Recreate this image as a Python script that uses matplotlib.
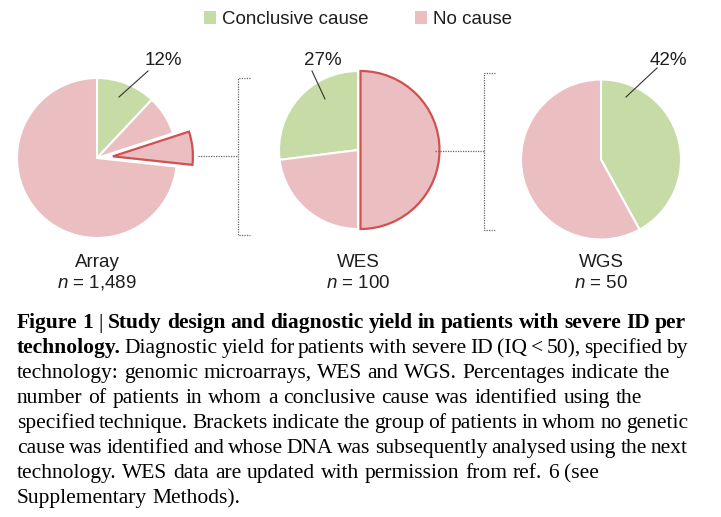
import numpy as np
import matplotlib.pyplot as plt
import matplotlib as mpl
import matplotlib.patches as mpatches

W, H = 721, 517

categories = ["Conclusive cause", "No cause"]
techs = ["Array", "WES", "WGS"]
n_patients = ["1,489", "100", "50"]
yield_labels = ["12%", "27%", "42%"]

# slices: conclusive cause, no cause, (no cause -> analysed with next technology), ...
array_sizes = [12, 8, 6.7, 73.3]
wes_sizes = [27, 23, 50]
wgs_sizes = [42, 58]

caption_lines = [
    [("Figure 1", "bold"), ("|", "normal"), ("Study design and diagnostic yield in patients with severe ID per", "bold")],
    [("technology.", "bold"), ("Diagnostic yield for patients with severe ID (IQ < 50), specified by", "normal")],
    [("technology: genomic microarrays, WES and WGS. Percentages indicate the", "normal")],
    [("number of patients in whom a conclusive cause was identified using the", "normal")],
    [("specified technique. Brackets indicate the group of patients in whom no genetic", "normal")],
    [("cause was identified and whose DNA was subsequently analysed using the next", "normal")],
    [("technology. WES data are updated with permission from ref. 6 (see", "normal")],
    [("Supplementary Methods).", "normal")],
]
# right edge of each caption line in the original layout (pixels), None = natural spacing
caption_right = [686, 688, 670, 642, 688, 688, 599, None]

GREEN = "#c6dba5"
PINK = "#ebbec2"
RED = "#d0514f"
DARK = "#1e1e1e"

mpl.rc("font", family=["Liberation Sans", "DejaVu Sans"])
mpl.rc("mathtext", fontset="custom", it="Liberation Sans:italic", rm="Liberation Sans")


def Y(py):
    return H - py


fig = plt.figure(figsize=(W / 100, H / 100), dpi=100)
ax = fig.add_axes([0, 0, 1, 1])

wp = dict(edgecolor="white", linewidth=1.5)

# pie geometry (pixels)
pies = [
    dict(sizes=array_sizes, colors=[GREEN, PINK, PINK, PINK], explode=[0, 0, 16, 0], hl=2,
         center=(97, 158), r=80, counterclock=False),
    dict(sizes=wes_sizes, colors=[GREEN, PINK, PINK], explode=[0, 0, 2.5], hl=2,
         center=(358, 150), r=79, counterclock=True),
    dict(sizes=wgs_sizes, colors=[GREEN, PINK], explode=[0, 0], hl=None,
         center=(601, 159.5), r=80, counterclock=False),
]

for p in pies:
    wedges, _ = ax.pie(p["sizes"], colors=p["colors"], explode=p["explode"], startangle=90,
                       counterclock=p["counterclock"], center=(p["center"][0], Y(p["center"][1])),
                       radius=p["r"], wedgeprops=wp, frame=True)
    if p["hl"] is not None:
        wedges[p["hl"]].set_edgecolor(RED)
        wedges[p["hl"]].set_linewidth(1.6)

ax.set_xlim(0, W)
ax.set_ylim(0, H)
ax.set_aspect("auto")
ax.axis("off")

# technology labels
for p, t, n in zip(pies, techs, n_patients):
    cx = p["center"][0]
    ax.text(cx, Y(267), t, ha="center", va="baseline", fontsize=13.5, color=DARK)
    ax.text(cx, Y(288), r"$n$ = " + n, ha="center", va="baseline", fontsize=13.5, color=DARK)

# yield labels with leader lines
label_pos = [(163, 65), (323, 65), (668, 65)]
leaders = [((148, 71), (119, 97)), ((312, 71), (325, 99)), ((657, 68), (626, 97))]
for lab, (tx, ty), ((x1, y1), (x2, y2)) in zip(yield_labels, label_pos, leaders):
    ax.text(tx, Y(ty), lab, ha="center", va="baseline", fontsize=13.5, color=DARK)
    ax.plot([x1, x2], [Y(y1), Y(y2)], color="#333333", lw=0.8)

# brackets
bk = dict(color="#666666", lw=0.9, ls=(0, (1, 1)))
for (hx0, hx1, hy, vx, vy0, vy1, tx) in [(198, 238, 156, 238, 78, 235, 250),
                                         (435, 484, 151, 484, 73, 230, 495)]:
    ax.plot([hx0, hx1], [Y(hy), Y(hy)], **bk)
    ax.plot([tx, vx, vx, tx], [Y(vy0), Y(vy0), Y(vy1), Y(vy1)], **bk)

# legend
handles = [mpatches.Patch(facecolor=GREEN, edgecolor="none"),
           mpatches.Patch(facecolor=PINK, edgecolor="none")]
fig.legend(handles, categories, loc="center", bbox_to_anchor=(358 / W, 1 - 19.5 / H), ncol=2,
           frameon=False, fontsize=13.5, handlelength=0.65, handleheight=0.65,
           handletextpad=0.3, columnspacing=2.5, labelcolor=DARK)

# caption, words spaced so each line ends where it does in the original
renderer = fig.canvas.get_renderer()
serif = "Liberation Serif"
size = 14.5
probe = fig.text(0, 0, caption_lines[2][0][0], fontsize=size, family=serif)
w = probe.get_window_extent(renderer).width
probe.remove()
size = size * (670 - 17) / w
probe = fig.text(0, 0, "a a", fontsize=size, family=serif)
space = probe.get_window_extent(renderer).width
probe.set_text("aa")
space -= probe.get_window_extent(renderer).width
probe.remove()

for i, (line, right) in enumerate(zip(caption_lines, caption_right)):
    base = 1 - (328 + 25 * i) / H
    words = [(wd, weight) for txt, weight in line for wd in txt.split(" ")]
    arts = [fig.text(0, base, wd, fontsize=size, family=serif, fontweight=weight,
                     va="baseline", ha="left", color="black") for wd, weight in words]
    widths = [a.get_window_extent(renderer).width for a in arts]
    if right is None:
        gap = space
    else:
        gap = (right - 17 - sum(widths)) / max(len(arts) - 1, 1)
    x = 17
    for a, wd in zip(arts, widths):
        a.set_x(x / W)
        x += wd + gap

fig.savefig("out.png", dpi=100)
